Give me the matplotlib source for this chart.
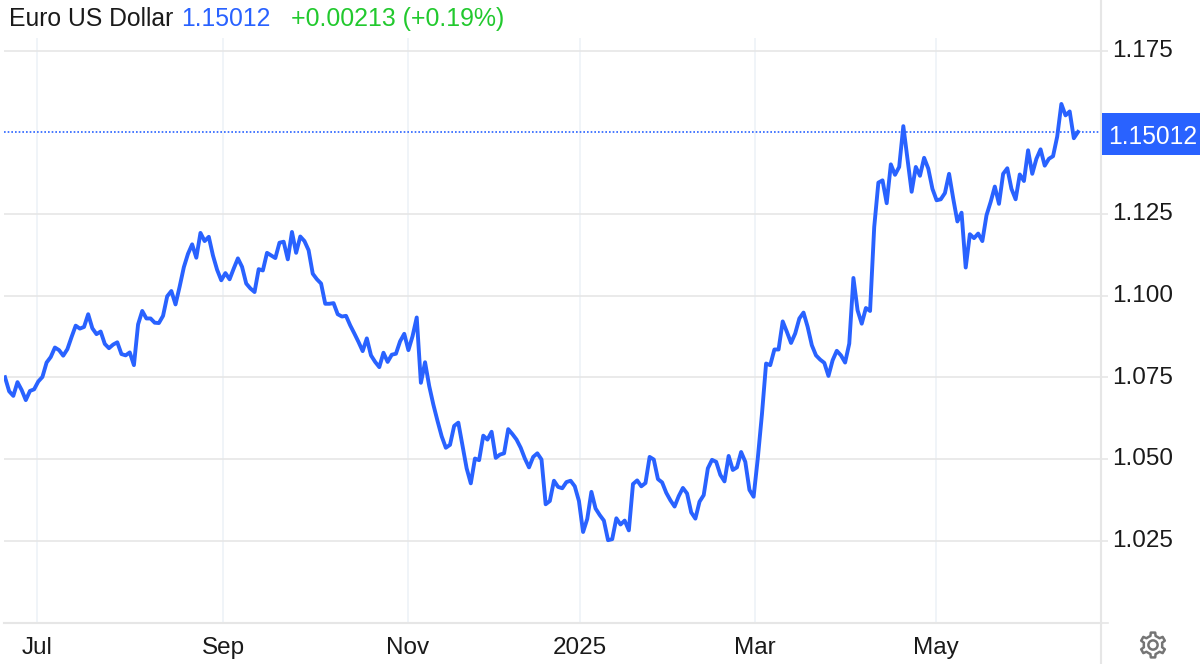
import numpy as np
import matplotlib
matplotlib.use('Agg')
import matplotlib.pyplot as plt
from matplotlib.patches import Polygon, Circle, Rectangle
from matplotlib.transforms import ScaledTranslation

plt.rcParams['font.family'] = ['Liberation Sans', 'DejaVu Sans']

# EUR/USD closes, Jun 2024 to Jun 2025
prices_2024_a = [
    1.0750, 1.0707, 1.0693, 1.0735, 1.0711, 1.0680, 1.0708, 1.0713, 1.0737, 1.0751,
    1.0795, 1.0812, 1.0841, 1.0833, 1.0816, 1.0836, 1.0873, 1.0908, 1.0899, 1.0904,
    1.0943, 1.0900, 1.0882, 1.0890, 1.0852, 1.0839, 1.0850, 1.0857, 1.0821, 1.0817,
    1.0826, 1.0787, 1.0912, 1.0953, 1.0930, 1.0930, 1.0917, 1.0916, 1.0938, 1.0998,
    1.1014, 1.0973, 1.1028, 1.1087, 1.1128, 1.1157, 1.1116, 1.1192, 1.1167, 1.1180,
    1.1123, 1.1079, 1.1047, 1.1069, 1.1050, 1.1083, 1.1114, 1.1088, 1.1037, 1.1022,
    1.1011, 1.1081, 1.1077, 1.1131, 1.1123, 1.1115, 1.1162, 1.1165, 1.1111, 1.1195,
    1.1131, 1.1181, 1.1167, 1.1139, 1.1067, 1.1050, 1.1037, 1.0975, 1.0975, 1.0977,
    1.0943, 1.0936, 1.0938, 1.0909, 1.0884, 1.0858, 1.0830, 1.0869, 1.0817, 1.0797,
    1.0781, 1.0825, 1.0797, 1.0819, 1.0822, 1.0860,
]
prices_2024_b = [
    1.0883, 1.0833, 1.0876, 1.0933, 1.0733, 1.0796, 1.0723, 1.0666, 1.0616, 1.0569,
    1.0534, 1.0543, 1.0601, 1.0611, 1.0541, 1.0471, 1.0425, 1.0501, 1.0496, 1.0571,
    1.0559, 1.0583, 1.0503, 1.0513, 1.0517, 1.0591, 1.0576, 1.0559, 1.0534, 1.0501,
    1.0474, 1.0506, 1.0517, 1.0498, 1.0361, 1.0371, 1.0433, 1.0414, 1.0410, 1.0429,
    1.0433, 1.0416, 1.0371, 1.0276, 1.0316, 1.0399, 1.0348, 1.0328, 1.0311, 1.0251,
    1.0254, 1.0318, 1.0299, 1.0311, 1.0281, 1.0423, 1.0434, 1.0416, 1.0426, 1.0506,
    1.0498, 1.0438, 1.0428, 1.0396, 1.0373, 1.0354, 1.0386, 1.0411, 1.0394, 1.0336,
    1.0317, 1.0369, 1.0389, 1.0471, 1.0497, 1.0491, 1.0451, 1.0431, 1.0509, 1.0466,
    1.0474, 1.0521, 1.0491, 1.0405, 1.0384, 1.0501, 1.0636,
]
prices_2025 = [
    1.0792, 1.0787, 1.0835, 1.0835, 1.0921, 1.0889, 1.0855, 1.0884, 1.0930, 1.0948,
    1.0904, 1.0848, 1.0817, 1.0804, 1.0794, 1.0754, 1.0802, 1.0831, 1.0817, 1.0795,
    1.0853, 1.1054, 1.0955, 1.0914, 1.0962, 1.0953, 1.1210, 1.1346, 1.1353, 1.1283,
    1.1402, 1.1370, 1.1394, 1.1519, 1.1419, 1.1318, 1.1394, 1.1367, 1.1422, 1.1389,
    1.1327, 1.1292, 1.1295, 1.1314, 1.1373, 1.1297, 1.1227, 1.1254, 1.1086, 1.1188,
    1.1176, 1.1190, 1.1167, 1.1246, 1.1287, 1.1334, 1.1281, 1.1373, 1.1390, 1.1327,
    1.1295, 1.1371, 1.1351, 1.1445, 1.1373, 1.1419, 1.1448, 1.1398, 1.1419, 1.1427,
    1.1487, 1.1587, 1.1552, 1.1564, 1.1482, 1.15012,
]
prices = np.array(prices_2024_a + prices_2024_b + prices_2025)

y_ticks = [1.025, 1.050, 1.075, 1.100, 1.125, 1.175]
y_labels = ['1.025', '1.050', '1.075', '1.100', '1.125', '1.175']
x_labels = ['Jul', 'Sep', 'Nov', '2025', 'Mar', 'May']
x_label_px = [37, 223, 408, 580, 755, 936]

BLUE = '#2962ff'
GREEN = '#22c92e'
TEXT = '#1a1a1a'
W, H = 1200, 664

# page in pixels, used to place the axes and the bits around them
fig = plt.figure(figsize=(12, 6.64), dpi=100, facecolor='white')
page = fig.add_axes([0, 0, 1, 1], zorder=3)
page.set_xlim(0, W)
page.set_ylim(H, 0)
page.axis('off')
page.patch.set_alpha(0)

left, right, top, bottom = 4, 1101, 38, 623
ax = fig.add_axes([left / W, 1 - bottom / H, (right - left) / W, (bottom - top) / H])

# pixel scale of the chart: 0.025 is 81.6 px, 1.025 sits at y=540.5
px_per_unit = 81.63 / 0.025
ax.set_ylim(1.025 + (540.5 - bottom) / px_per_unit, 1.025 + (540.5 - top) / px_per_unit)
n = len(prices)
step = (1078 - 5) / (n - 1)
ax.set_xlim((left - 5) / step, (right - 5) / step)
idx = np.arange(n)

ax.plot(idx, prices, color=BLUE, linewidth=2.8, solid_joinstyle='round', zorder=3)
ax.axhline(prices[-1], color=BLUE, linewidth=1.2, linestyle=(0, (1, 1.2)), zorder=2)

ax.set_yticks(y_ticks)
ax.set_yticklabels(y_labels)
ax.yaxis.tick_right()
ax.tick_params(axis='y', length=5, width=1.2, color='#e6e6e6', pad=3,
               labelsize=17.5, labelcolor=TEXT)
# labels sit 2 px above their grid line
lift = ScaledTranslation(0, 2 / 100, fig.dpi_scale_trans)
for lab in ax.get_yticklabels():
    lab.set_transform(lab.get_transform() + lift)
ax.set_xticks([(p - 5) / step for p in x_label_px])
ax.set_xticklabels(x_labels)
ax.tick_params(axis='x', length=0, pad=10, labelsize=17.5, labelcolor=TEXT)
ax.grid(axis='y', color='#e6e6e6', linewidth=1.2, zorder=0)
ax.grid(axis='x', color='#edf2f7', linewidth=1.2, zorder=0)
ax.set_axisbelow(True)
for side in ['top', 'left', 'right']:
    ax.spines[side].set_visible(False)
ax.spines['bottom'].set_color('#e6e6e6')
ax.spines['bottom'].set_linewidth(1.5)

# right axis line runs the full height
page.plot([1101, 1101], [0, H], color='#e6e6e6', linewidth=1.5, zorder=1)
page.plot([1101, 1108], [bottom, bottom], color='#e6e6e6', linewidth=1.2, zorder=1)

# current price box
page.add_patch(Rectangle((1102, 113), 98, 42, facecolor=BLUE, edgecolor='none', zorder=2))
page.text(1197, 134, '1.15012', color='white', fontsize=17.7, ha='right', va='center_baseline', zorder=3)

# header line
page.text(9, 26, 'Euro US Dollar', color=TEXT, fontsize=17.8, va='baseline')
page.text(181, 26, '1.15012', color=BLUE, fontsize=17.8, va='baseline')
page.text(291, 26, '+0.00213 (+0.19%)', color=GREEN, fontsize=17.9, va='baseline')

# settings gear, lower right
cx, cy = 1153, 645
gear_angles = []
gear_radii = []
for k in range(6):
    a = np.deg2rad(k * 60 - 90)
    for da, r in [(-30, 9.2), (-16, 9.4), (-10, 12.6), (10, 12.6), (16, 9.4)]:
        gear_angles.append(a + np.deg2rad(da))
        gear_radii.append(r)
gear_angles = np.array(gear_angles)
gear_radii = np.array(gear_radii)
gear_xy = np.column_stack([cx + gear_radii * np.cos(gear_angles), cy + gear_radii * np.sin(gear_angles)])
page.add_patch(Polygon(gear_xy, closed=True, fill=False, edgecolor='#757575', linewidth=1.8, joinstyle='round'))
page.add_patch(Circle((cx, cy), 4.6, fill=False, edgecolor='#757575', linewidth=1.8))

fig.savefig('out.png', dpi=100)
